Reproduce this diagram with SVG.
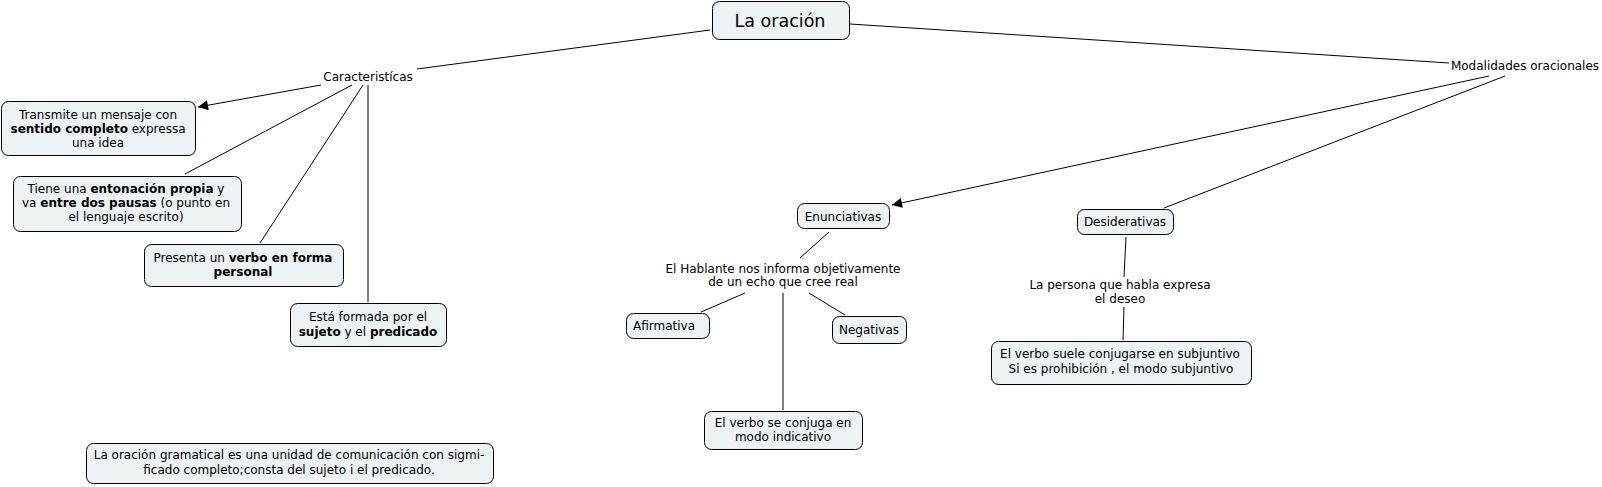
<svg xmlns="http://www.w3.org/2000/svg" width="1602" height="487" viewBox="0 0 1602 487">
<style>
.box{fill:#edf2f5;stroke:#000;stroke-width:1}
text{font-family:"DejaVu Sans",Verdana,sans-serif;font-size:12px;fill:#000;text-anchor:middle}
.b{font-weight:bold}
.ln{stroke:#000;stroke-width:1;fill:none}
</style>
<defs>
<marker id="ar" viewBox="0 0 10 10" refX="10" refY="5" markerWidth="12" markerHeight="10" markerUnits="userSpaceOnUse" orient="auto">
<path d="M0,0 L10,5 L0,10 z" fill="#000"/>
</marker>
</defs>
<rect width="1602" height="487" fill="#fff"/>
<g id="connectors">
<line class="ln" x1="710" y1="30" x2="417" y2="69"/>
<line class="ln" x1="850" y1="24" x2="1449" y2="63"/>
<line class="ln" x1="321" y1="85" x2="198" y2="107" marker-end="url(#ar)"/>
<line class="ln" x1="352" y1="85" x2="185" y2="174"/>
<line class="ln" x1="363" y1="85" x2="260" y2="243"/>
<line class="ln" x1="368" y1="85" x2="368" y2="302"/>
<line class="ln" x1="1489" y1="76" x2="892" y2="205" marker-end="url(#ar)"/>
<line class="ln" x1="1505" y1="76" x2="1164" y2="208"/>
<line class="ln" x1="829" y1="232" x2="800" y2="258"/>
<line class="ln" x1="745" y1="293" x2="701" y2="312"/>
<line class="ln" x1="809" y1="293" x2="845" y2="315"/>
<line class="ln" x1="783" y1="293" x2="783" y2="410"/>
<line class="ln" x1="1126" y1="237" x2="1124" y2="277"/>
<line class="ln" x1="1124" y1="307" x2="1123" y2="340"/>
</g>
<g id="n-oracion">
<rect class="box" x="712.5" y="1.5" width="137" height="38" rx="7"/>
<text x="780" y="27" style="font-size:17.5px">La oración</text>
</g>
<g id="n-caracteristicas">
<text x="368" y="81">Caracteristícas</text>
</g>
<g id="n-modalidades">
<text x="1525" y="70">Modalidades oracionales</text>
</g>
<g id="n-transmite">
<rect class="box" x="1.5" y="101.5" width="194" height="54" rx="7"/>
<text x="98" y="119">Transmite un mensaje con</text>
<text x="98" y="133"><tspan class="b">sentido completo</tspan> expressa</text>
<text x="98" y="147">una idea</text>
</g>
<g id="n-tiene">
<rect class="box" x="13.5" y="176.5" width="228" height="55" rx="7"/>
<text x="126" y="193">Tiene una <tspan class="b">entonación propia</tspan> y</text>
<text x="126" y="207">va <tspan class="b">entre dos pausas</tspan> (o punto en</text>
<text x="126" y="221">el lenguaje escrito)</text>
</g>
<g id="n-presenta">
<rect class="box" x="144.5" y="244.5" width="199" height="42" rx="7"/>
<text x="243" y="262">Presenta un <tspan class="b">verbo en forma</tspan></text>
<text x="243" y="276" class="b">personal</text>
</g>
<g id="n-esta">
<rect class="box" x="290.5" y="303.5" width="156" height="43" rx="7"/>
<text x="368" y="321">Está formada por el</text>
<text x="368" y="336"><tspan class="b">sujeto</tspan> y el <tspan class="b">predicado</tspan></text>
</g>
<g id="n-enunciativas">
<rect class="box" x="797.5" y="203.5" width="92" height="25" rx="7"/>
<text x="843" y="221">Enunciativas</text>
</g>
<g id="n-hablante">
<text x="783" y="273">El Hablante nos informa objetivamente</text>
<text x="783" y="286">de un echo que cree real</text>
</g>
<g id="n-afirmativa">
<rect class="box" x="626.5" y="313.5" width="83" height="25" rx="7"/>
<text x="664" y="330">Afirmativa</text>
</g>
<g id="n-negativas">
<rect class="box" x="832.5" y="316.5" width="74" height="27" rx="7"/>
<text x="869" y="334">Negativas</text>
</g>
<g id="n-indicativo">
<rect class="box" x="704.5" y="411.5" width="158" height="38" rx="7"/>
<text x="783" y="427">El verbo se conjuga en</text>
<text x="783" y="441">modo indicativo</text>
</g>
<g id="n-desiderativas">
<rect class="box" x="1077.5" y="209.5" width="96" height="25" rx="7"/>
<text x="1125" y="226">Desiderativas</text>
</g>
<g id="n-persona">
<text x="1120" y="289">La persona que habla expresa</text>
<text x="1120" y="303">el deseo</text>
</g>
<g id="n-subjuntivo">
<rect class="box" x="991.5" y="341.5" width="260" height="43" rx="7"/>
<text x="1120" y="358">El verbo suele conjugarse en subjuntivo</text>
<text x="1121" y="373">Si es prohibición , el modo subjuntivo</text>
</g>
<g id="n-definicion">
<rect class="box" x="86.5" y="443.5" width="407" height="40" rx="7"/>
<text x="289" y="459">La oración gramatical es una unidad de comunicación con sigmi-</text>
<text x="289" y="474">ficado completo;consta del sujeto i el predicado.</text>
</g>
</svg>
